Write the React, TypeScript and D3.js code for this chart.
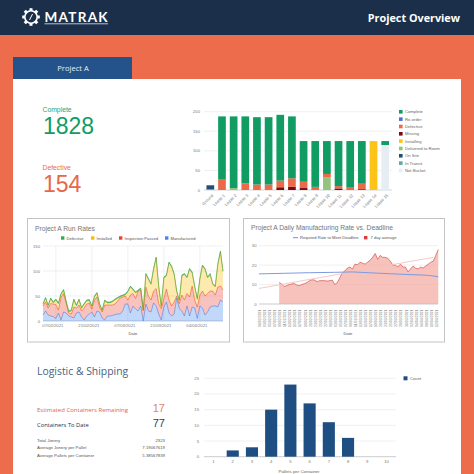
import React from "react";
import * as d3 from "d3";

const leases = ["Ground","Lease 1","Lease 2","Lease 3","Lease 4","Lease 5","Lease 6","Lease 7","Lease 8","Lease 9","Lease 10","Lease 11","Lease 12","Lease 13","Lease 14","Lease 15"];
const statusNames = ["Complete","Re-order","Defective","Missing","Installing","Delivered to Room","On Site","In Transit","Not Bucket"];
const statusColors = ["#109c62","#4a6fd8","#ea6a4a","#7a0a14","#fcc419","#93c47d","#1f4e79","#5fa8a8","#e6eef3"];
const notBucket =  [0,0,0,0,0,0,0,0,0,0,0,0,0,0,0,115];
const inTransit =  [2,0,0,0,0,0,0,0,0,0,0,0,0,0,0,0];
const onSite =     [10,0,0,0,0,0,0,0,0,0,0,0,0,0,0,0];
const delivered =  [0,0,5,0,0,0,0,0,0,0,33,0,0,0,0,0];
const installing = [0,0,0,0,0,0,0,0,0,0,0,0,0,0,125,0];
const missing =    [0,0,0,0,0,0,7,8,5,0,0,4,0,2,0,0];
const defective =  [0,28,0,17,14,14,17,22,16,8,8,6,6,14,0,0];
const reorder =    [0,0,0,0,0,0,0,0,0,0,0,0,0,0,0,0];
const complete =   [0,160,183,171,172,172,168,158,104,117,84,115,119,109,0,10];

const manufactured = [12,20,12,10,9,5,16,2,18,16,10,8,6,16,18,8,2,10,14,18,8,20,18,6,2,10,10,11,13,14,14,20,34,34,16,30,24,20,30,0,34,20,18,36,30,14,2,28,38,16,10,14,46,25,20,10,30,10,28,26,5,30,26,12,18,28,30,30,28,42,38];
const passed = [18,18,14,25,25,28,6,46,37,20,6,6,22,10,14,12,24,24,22,6,34,28,10,12,30,22,22,21,21,26,32,28,16,8,36,25,21,40,32,20,34,30,24,24,35,21,23,17,26,26,20,24,4,10,32,32,25,38,42,16,23,22,34,38,37,32,30,22,40,28,24];
const installed = [3,7,4,9,2,9,12,5,6,2,2,6,14,4,10,5,7,6,5,4,6,7,5,2,8,4,4,6,8,5,2,2,2,16,16,7,11,0,2,0,25,33,31,43,61,33,3,41,26,74,78,55,8,5,38,51,31,55,26,26,15,31,50,53,31,33,13,16,45,68,36];
const defects = [2,2,2,2,2,2,2,2,2,2,2,2,2,2,2,2,2,2,2,2,2,2,2,2,2,2,2,2,2,2,2,2,2,2,2,2,2,2,2,2,2,2,2,2,2,2,2,2,2,2,2,2,2,2,2,2,2,2,2,2,2,2,2,2,2,2,2,2,2,2,2];
const runNames = ["Defective","Installed","Inspection Passed","Manufactured"];
const runColors = ["#34a853","#fbbc04","#ea4335","#4285f4"];
const runTicks = ["07/02/2021","21/02/2021","07/03/2021","21/03/2021","04/04/2021"];
const runTickDays = [5,19,33,47,61];

const avgStart = 8;
const sevenDay = [11,10.3,9,9.5,10,10.3,10.5,9.7,9.5,10,10.5,11,12,12.5,12.3,11.5,12,12,12,11.8,12,12.3,10,11,13.5,16,17,18.5,19,18,20.5,20.2,21.5,21,20.5,21.5,22.5,24,26,23,25,24,24,23.5,22,20,20,19,20.5,19,19,16.5,18,19.5,18.5,18,19,18.5,19.5,20.5,21.5,22,25,28];
const requiredDays = [0,10,20,30,37,45,58,65,68,71];
const requiredRate = [15.5,15.8,16.1,16.3,16.5,16,15.2,14.9,14.6,14];
const trendDays = [0,69];
const trendRate = [8,24];
const deadlineDates = ["01/02/2021","03/02/2021","05/02/2021","07/02/2021","09/02/2021","11/02/2021","13/02/2021","15/02/2021","17/02/2021","19/02/2021","21/02/2021","23/02/2021","25/02/2021","27/02/2021","01/03/2021","03/03/2021","05/03/2021","07/03/2021","09/03/2021","11/03/2021","13/03/2021","15/03/2021","17/03/2021","19/03/2021","21/03/2021","23/03/2021","25/03/2021","27/03/2021","29/03/2021","31/03/2021","02/04/2021","04/04/2021","06/04/2021","08/04/2021","10/04/2021","12/04/2021"];

const palletBins = [1,2,3,4,5,6,7,8,9,10];
const palletCounts = [0,2,3,15,23,17,11,6,0,0];

const sans = "'Liberation Sans', Arial, sans-serif";
const nun = "'Open Sans', sans-serif";
const GRID = "#e6e6e6";
const TICK = "#777";

function LeaseChart() {
  const x = d3.scaleBand<string>().domain(leases).range([204.5, 391]).paddingInner(0.34).paddingOuter(0.17);
  const y = d3.scaleLinear().domain([0, 200]).range([190, 111.7]);
  const rows = leases.map((l, i) => ({ l, "Not Bucket": notBucket[i], "In Transit": inTransit[i], "On Site": onSite[i], "Delivered to Room": delivered[i], Installing: installing[i], Missing: missing[i], Defective: defective[i], "Re-order": reorder[i], Complete: complete[i] }));
  const order = [...statusNames].reverse();
  const series = d3.stack<any>().keys(order)(rows);
  return <g>
    {y.ticks(4).map(t => <g key={t}>
      <line x1={204} x2={392} y1={y(t)} y2={y(t)} stroke={t === 0 ? "#bbb" : GRID} strokeWidth={0.6} />
      <text x={200} y={y(t) + 1.5} fontSize={4.2} textAnchor="end" fill={TICK} fontFamily={sans}>{t}</text>
    </g>)}
    {series.map(s => <g key={s.key} fill={statusColors[statusNames.indexOf(s.key)]}>
      {s.map((d, i) => d[1] > d[0] ? <rect key={i} x={x(leases[i])} width={x.bandwidth()} y={y(d[1])} height={y(d[0]) - y(d[1])} /> : null)}
    </g>)}
    {leases.map(l => {
      const cx = x(l)! + x.bandwidth() / 2;
      return <text key={l} transform={`translate(${cx + 1},${193.5}) rotate(-45)`} fontSize={4.2} textAnchor="end" dominantBaseline="hanging" fill={TICK} fontFamily={sans}>{l}</text>;
    })}
    {statusNames.map((n, i) => <g key={n}>
      <rect x={399} y={110 + i * 7.33} width={3.6} height={3.6} fill={statusColors[i]} />
      <text x={405} y={113.3 + i * 7.33} fontSize={4.2} fill="#666" fontFamily={sans}>{n}</text>
    </g>)}
  </g>;
}

function RunRates() {
  const x = d3.scaleLinear().domain([0, manufactured.length - 1]).range([43, 223]);
  const y = d3.scaleLinear().domain([0, 150]).range([321, 246]);
  const rows = manufactured.map((m, i) => ({ i, Manufactured: m, "Inspection Passed": passed[i], Installed: installed[i], Defective: defects[i] }));
  const keys = ["Manufactured", "Inspection Passed", "Installed", "Defective"];
  const series = d3.stack<any>().keys(keys)(rows);
  const area = d3.area<any>().x((_, i) => x(i)).y0(d => y(d[0])).y1(d => y(d[1]));
  const line = d3.line<any>().x((_, i) => x(i)).y(d => y(d[1]));
  const legendX = [61, 91, 119, 165];
  return <g>
    <rect x={27.5} y={218.5} width={202} height={123.5} fill="#fff" stroke="#c4c4c4" strokeWidth={1} />
    <text x={35} y={231} fontSize={6.7} fill="#757575" fontFamily={sans}>Project A Run Rates</text>
    {runNames.map((n, i) => <g key={n}>
      <rect x={legendX[i]} y={236.3} width={3.4} height={3.4} fill={runColors[i]} />
      <text x={legendX[i] + 5.5} y={239.6} fontSize={4.1} fill="#555" fontFamily={sans}>{n}</text>
    </g>)}
    {y.ticks(3).map(t => <g key={t}>
      <line x1={43} x2={223} y1={y(t)} y2={y(t)} stroke={t === 0 ? "#aaa" : GRID} strokeWidth={0.6} />
      <text x={40} y={y(t) + 1.5} fontSize={4.2} textAnchor="end" fill={TICK} fontFamily={sans}>{t}</text>
    </g>)}
    {runTickDays.map((d, i) => <g key={d}>
      <line x1={x(d)} x2={x(d)} y1={246} y2={321} stroke={GRID} strokeWidth={0.6} />
      <text x={x(d) - 3} y={326.5} fontSize={4.2} textAnchor="middle" fill={TICK} fontFamily={sans}>{runTicks[i]}</text>
    </g>)}
    {series.map(s => {
      const c = runColors[runNames.indexOf(s.key)];
      return <g key={s.key}>
        <path d={area(s as any)!} fill={c} fillOpacity={s.key === "Defective" ? 0.8 : 0.32} />
        <path d={line(s as any)!} fill="none" stroke={c} strokeWidth={0.7} strokeOpacity={0.85} />
      </g>;
    })}
    <text x={133} y={334.5} fontSize={4.2} textAnchor="middle" fill="#555" fontFamily={sans}>Date</text>
  </g>;
}

function Deadline() {
  const x = d3.scaleLinear().domain([0, 71]).range([259, 438.3]);
  const y = d3.scaleLinear().domain([0, 30]).range([304, 245.7]);
  const pts = sevenDay.map((v, i) => [avgStart + i, v] as [number, number]);
  const area = d3.area<[number, number]>().x(d => x(d[0])).y0(y(0)).y1(d => y(d[1]));
  const line = d3.line<[number, number]>().x(d => x(d[0])).y(d => y(d[1]));
  return <g>
    <rect x={243.5} y={218.5} width={201} height={123.5} fill="#fff" stroke="#c4c4c4" strokeWidth={1} />
    <text x={251} y={230} fontSize={6.7} fill="#757575" fontFamily={sans}>Project A Daily Manufacturing Rate vs. Deadline</text>
    <line x1={293} x2={298} y1={237.7} y2={237.7} stroke="#6f8fd8" strokeWidth={1} />
    <text x={300} y={239.2} fontSize={4.1} fill="#555" fontFamily={sans}>Required Rate to Meet Deadline</text>
    <rect x={364} y={236} width={3.4} height={3.4} fill="#d93a3a" />
    <text x={370.5} y={239.2} fontSize={4.1} fill="#555" fontFamily={sans}>7 day average</text>
    {y.ticks(3).map(t => <g key={t}>
      <line x1={259} x2={438} y1={y(t)} y2={y(t)} stroke={t === 0 ? "#aaa" : GRID} strokeWidth={0.6} />
      <text x={256.5} y={y(t) + 1.5} fontSize={4.2} textAnchor="end" fill={TICK} fontFamily={sans}>{t}</text>
    </g>)}
    <path d={area(pts)!} fill="#f4a6a0" fillOpacity={0.7} />
    <path d={line(pts)!} fill="none" stroke="#e0605a" strokeWidth={0.8} />
    <path d={line(trendDays.map((d, i) => [d, trendRate[i]] as [number, number]))!} fill="none" stroke="#f6c2bb" strokeWidth={0.9} />
    <path d={line(requiredDays.map((d, i) => [d, requiredRate[i]] as [number, number]))!} fill="none" stroke="#7f9bdc" strokeWidth={1} />
    {deadlineDates.map((d, i) => <text key={d} transform={`translate(${x(i * 2 + 0.3) + 1.3},${327}) rotate(-90)`} fontSize={3.5} fill={TICK} fontFamily={sans}>{d}</text>)}
    <text x={348} y={334.5} fontSize={4.2} textAnchor="middle" fill="#555" fontFamily={sans}>Date</text>
  </g>;
}

function Pallets() {
  const x = d3.scaleBand<number>().domain(palletBins).range([204, 396]).paddingInner(0.37).paddingOuter(0.18);
  const y = d3.scaleLinear().domain([0, 25]).range([456.7, 378.3]);
  return <g>
    {y.ticks(5).map(t => <g key={t}>
      <line x1={204} x2={396} y1={y(t)} y2={y(t)} stroke={t === 0 ? "#aaa" : GRID} strokeWidth={0.6} />
      <text x={199} y={y(t) + 1.5} fontSize={4.2} textAnchor="end" fill={TICK} fontFamily={sans}>{t}</text>
    </g>)}
    {palletBins.map((b, i) => <g key={b}>
      {palletCounts[i] > 0 && <rect x={x(b)} width={x.bandwidth()} y={y(palletCounts[i])} height={y(0) - y(palletCounts[i])} fill="#1f4e82" />}
      <text x={x(b)! + x.bandwidth() / 2} y={462.5} fontSize={4.2} textAnchor="middle" fill={TICK} fontFamily={sans}>{b}</text>
    </g>)}
    <text x={299} y={473} fontSize={4.4} textAnchor="middle" fill="#666" fontFamily={sans}>Pallets per Container</text>
    <rect x={403.5} y={376.3} width={4} height={4} fill="#1f4e82" />
    <text x={410} y={379.8} fontSize={4.2} fill="#666" fontFamily={sans}>Count</text>
  </g>;
}

function Logo() {
  const teeth = d3.range(8).map(i => i * 45);
  return <g>
    {teeth.map(a => <rect key={a} x={29.5} y={8.2} width={3} height={3} fill="#fff" transform={`rotate(${a} 31 17)`} />)}
    <circle cx={31} cy={17} r={6.2} fill="#1b2f4b" stroke="#fff" strokeWidth={1.6} />
    <line x1={29.5} y1={20} x2={32.5} y2={14} stroke="#fff" strokeWidth={1} />
    <text x={44.5} y={22} fontSize={13.5} fontWeight={700} fill="#fff" fontFamily="Lato, sans-serif" letterSpacing={1.3}>MATRAK</text>
    <line x1={44.5} x2={108} y1={23.8} y2={23.8} stroke="#fff" strokeWidth={0.7} />
  </g>;
}

export default function App() {
  return <svg width={474} height={474} viewBox="0 0 474 474" style={{ position: "fixed", left: 0, top: 0, display: "block" }}>
    <rect width={474} height={474} fill="#ec6c4c" />
    <rect width={474} height={35} fill="#1b2f4b" />
    <Logo />
    <text x={460} y={21.5} fontSize={10.8} fontWeight={700} textAnchor="end" fill="#fff" fontFamily={nun}>Project Overview</text>
    <rect x={13} y={57} width={119} height={22.5} fill="#23538a" />
    <text x={73} y={71} fontSize={7.6} textAnchor="middle" fill="#e8eef5" fontFamily={nun}>Project A</text>
    <rect x={13} y={79} width={448} height={395} fill="#fff" />

    <text x={42.5} y={112} fontSize={6.8} fill="#2aa377" fontFamily={sans}>Complete</text>
    <text x={43} y={133.5} fontSize={23} fill="#109c62" fontFamily={sans}>1828</text>
    <text x={42.5} y={170} fontSize={6.8} fill="#ec6c4c" fontFamily={sans}>Defective</text>
    <text x={43} y={192} fontSize={23} fill="#e8674a" fontFamily={sans}>154</text>

    <LeaseChart />
    <RunRates />
    <Deadline />

    <text x={37} y={375} fontSize={10.4} fill="#4a5f80" fontFamily={nun}>Logistic &amp; Shipping</text>
    <text x={37} y={411.5} fontSize={6} fill="#e0654a" fontFamily={nun}>Estimated Containers Remaining</text>
    <text x={165} y={411.5} fontSize={11} textAnchor="end" fill="#e0856a" fontFamily={sans}>17</text>
    <text x={37} y={427} fontSize={5.8} fill="#1b2f4b" fontFamily={nun}>Containers To Date</text>
    <text x={165} y={427} fontSize={11} textAnchor="end" fill="#2a3f5f" fontFamily={sans}>77</text>
    <text x={37} y={441.5} fontSize={4.3} fill="#555" fontFamily={sans}>Total Jonery</text>
    <text x={165} y={441.5} fontSize={4.3} textAnchor="end" fill="#555" fontFamily={sans}>2323</text>
    <text x={37} y={449} fontSize={4.3} fill="#555" fontFamily={sans}>Average Jonery per Pallet</text>
    <text x={165} y={449} fontSize={4.3} textAnchor="end" fill="#555" fontFamily={sans}>7.19067619</text>
    <text x={37} y={456.5} fontSize={4.3} fill="#555" fontFamily={sans}>Average Pallets per Container</text>
    <text x={165} y={456.5} fontSize={4.3} textAnchor="end" fill="#555" fontFamily={sans}>5.38567839</text>

    <Pallets />
  </svg>;
}
